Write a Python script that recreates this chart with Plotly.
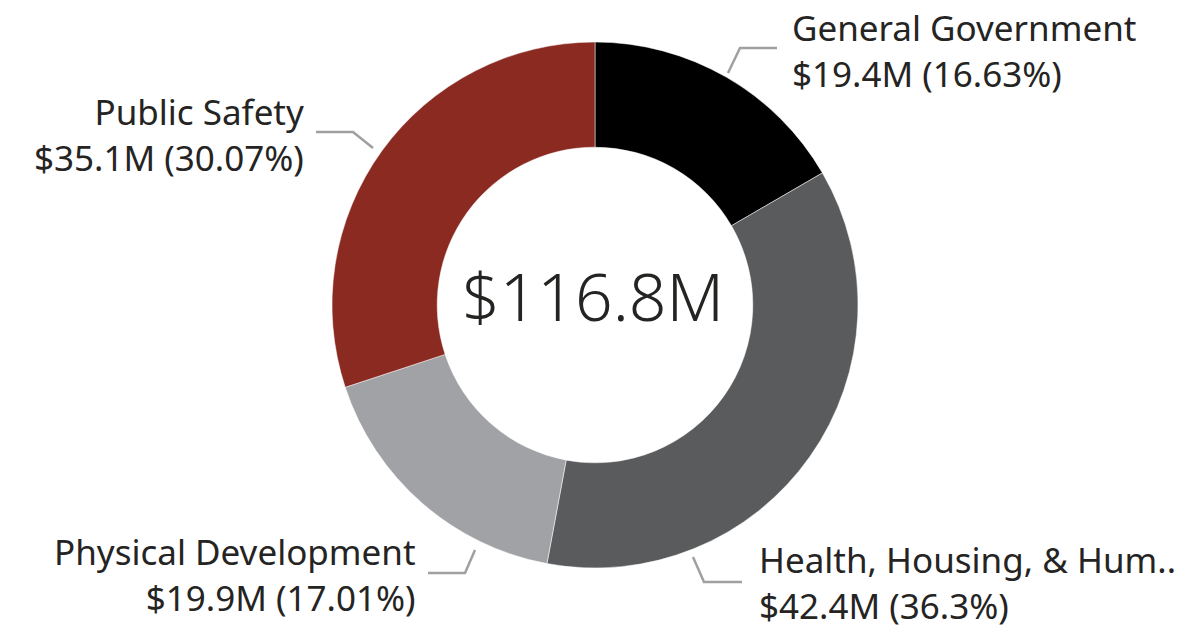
import plotly.graph_objects as go

W, H = 1189, 625
OFF = 8  # 页面默认 body 边距

# 数据
categories = ["General Government", "Health, Housing, & Hum..", "Physical Development", "Public Safety"]
values = [19.42, 42.40, 19.87, 35.12]  # $M
value_labels = ["$19.4M", "$42.4M", "$19.9M", "$35.1M"]
pct_labels = ["16.63%", "36.3%", "17.01%", "30.07%"]
total_label = "$116.8M"
colors = ["#000000", "#5A5B5D", "#A1A2A5", "#8B2A21"]

FONT = "Noto Sans"
TEXT_COLOR = "#252423"
LINE_COLOR = "#A0A0A0"


def px(x):
    return (x - OFF) / W


def py(y):
    return 1 - (y - OFF) / H


fig = go.Figure()

fig.add_trace(go.Pie(
    labels=categories,
    values=values,
    hole=0.6,
    sort=False,
    direction="clockwise",
    rotation=0,
    marker=dict(colors=colors, line=dict(color="white", width=0.5)),
    textinfo="none",
    hoverinfo="label+value+percent",
    showlegend=False,
    domain=dict(x=[px(332), px(858)], y=[py(568), py(42)]),
))

# 标签位置 (屏幕像素): x, y(中线), 对齐
label_pos = [
    (790, 51, "left"),
    (757, 582, "left"),
    (418, 574, "right"),
    (306, 134, "right"),
]

annotations = []
for i, (x, y, side) in enumerate(label_pos):
    annotations.append(dict(
        x=px(x), y=py(y), xref="paper", yref="paper",
        xanchor=side, yanchor="middle", align=side,
        text=f"{categories[i]}<br>{value_labels[i]} ({pct_labels[i]})",
        showarrow=False,
        font=dict(family=FONT, size=35, color=TEXT_COLOR),
    ))

# 中心总额
annotations.append(dict(
    x=px(593), y=py(295), xref="paper", yref="paper",
    xanchor="center", yanchor="middle",
    text=total_label, showarrow=False,
    font=dict(family=FONT, size=66, color=TEXT_COLOR, weight=300),
))

# 引导线
leaders = [
    [(728, 73), (740, 48), (777, 48)],
    [(693, 557), (704, 582), (742, 582)],
    [(475, 550), (465, 573), (428, 573)],
    [(373, 148), (353, 132), (316, 132)],
]
shapes = []
for pts in leaders:
    path = "M " + " L ".join(f"{px(a):.5f},{py(b):.5f}" for a, b in pts)
    shapes.append(dict(type="path", xref="paper", yref="paper", path=path,
                       line=dict(color=LINE_COLOR, width=2.5)))

fig.update_layout(
    width=W, height=H,
    margin=dict(l=0, r=0, t=0, b=0),
    paper_bgcolor="white",
    plot_bgcolor="white",
    annotations=annotations,
    shapes=shapes,
)

fig.write_html("out.html")
